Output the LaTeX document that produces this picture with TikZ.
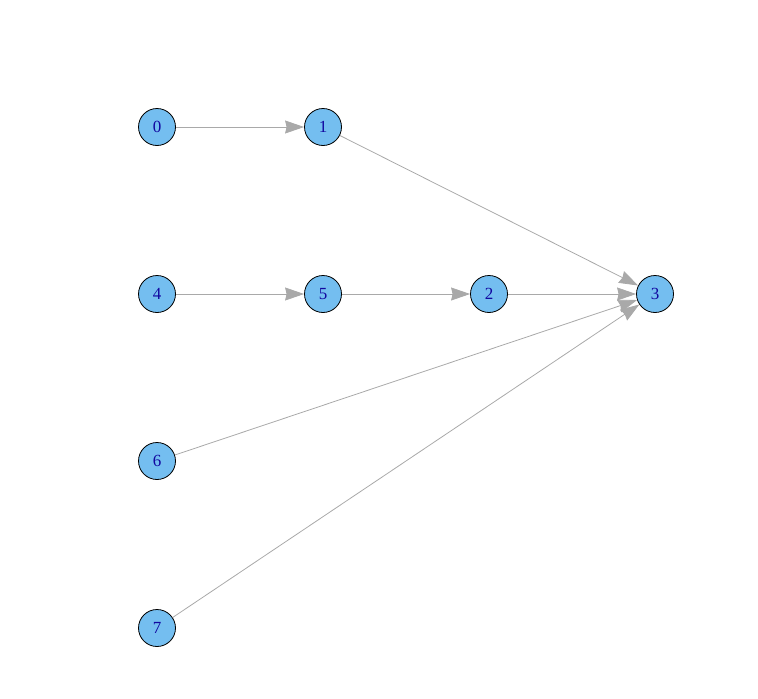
\documentclass[tikz,border=0pt]{standalone}
\usepackage{fontspec}
\setmainfont{Liberation Serif}
\usetikzlibrary{arrows.meta}

\definecolor{vertexblue}{HTML}{74BEF0}
\definecolor{labelblue}{HTML}{1208A0}
\definecolor{edgegray}{HTML}{A9A9A9}

\tikzset{
  vertex/.style={circle, draw=black, fill=vertexblue, line width=0.8pt,
    minimum size=37pt, inner sep=0pt, text=labelblue, font=\fontsize{17}{17}\selectfont},
  edge/.style={draw=edgegray, line width=0.8pt,
    -{Stealth[length=19pt, width=13pt, inset=1.5pt, fill=edgegray]}}
}

\begin{document}
\begin{tikzpicture}[x=1pt, y=-1pt]

% Frame of the plot
\useasboundingbox (0, 0) rectangle (758, 699);

% The vertices
\node[vertex] (v0) at (157, 127) {0};
\node[vertex] (v1) at (323, 127) {1};
\node[vertex] (v4) at (157, 294) {4};
\node[vertex] (v5) at (323, 294) {5};
\node[vertex] (v2) at (489, 294) {2};
\node[vertex] (v3) at (655, 294) {3};
\node[vertex] (v6) at (157, 461) {6};
\node[vertex] (v7) at (157, 628) {7};

% The edges
\draw[edge] (v0) -- (v1);
\draw[edge] (v1) -- (v3);
\draw[edge] (v4) -- (v5);
\draw[edge] (v5) -- (v2);
\draw[edge] (v2) -- (v3);
\draw[edge] (v6) -- (v3);
\draw[edge] (v7) -- (v3);

\end{tikzpicture}
\end{document}
